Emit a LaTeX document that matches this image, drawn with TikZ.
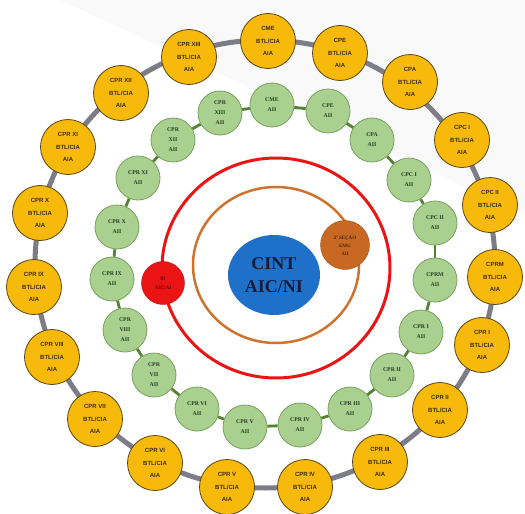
\documentclass[tikz,border=0pt]{standalone}
\usepackage{fontspec}
\setmainfont{Liberation Serif}
\newfontfamily\osans{Liberation Sans}
\usetikzlibrary{shapes.geometric}
\definecolor{ogold}{RGB}{247,186,10}
\definecolor{oedge}{RGB}{90,70,20}
\definecolor{gfill}{RGB}{169,208,142}
\definecolor{gedge}{RGB}{120,160,95}
\definecolor{gline}{RGB}{84,130,53}
\definecolor{gtext}{RGB}{40,60,35}
\definecolor{otext}{RGB}{60,45,20}
\definecolor{ringgray}{RGB}{125,125,135}
\definecolor{cblue}{RGB}{30,112,200}
\definecolor{navy}{RGB}{20,28,60}
\definecolor{brown}{RGB}{200,105,35}
\definecolor{ring2}{RGB}{205,115,45}
\definecolor{rred}{RGB}{235,20,20}
\pgfdeclarelayer{back}
\pgfsetlayers{back,main}
\begin{document}
\begin{tikzpicture}[x=1pt,y=-1pt,
  outer/.style={circle,draw=oedge,line width=0.8pt,fill=ogold,minimum size=55pt,inner sep=0pt,align=center,
     font=\osans\bfseries\fontsize{6}{12.5}\selectfont,text=otext},
  inner/.style={circle,draw=gedge,line width=0.8pt,fill=gfill,minimum size=44pt,inner sep=0pt,align=center,
     font=\bfseries\fontsize{5.8}{10}\selectfont,text=gtext},
  gconn/.style={gline,line width=2.8pt},
]
\begin{pgfonlayer}{back}
\fill[white] (0,0) rectangle (525,514);
\fill[gray!5] (60,0) -- (525,0) -- (525,215) -- cycle;
% rings
\draw[ringgray,line width=5pt] (265,264) ellipse [x radius=230,y radius=224];
\draw[rred,line width=3pt] (276,268) ellipse [x radius=114,y radius=110];
\draw[ring2,line width=2.5pt] (276,265) ellipse [x radius=83,y radius=78];
\end{pgfonlayer}
\useasboundingbox (0,0) rectangle (525,514);
% green ring nodes
\node[inner] (g1) at (272,105) {CME\\AII};
\node[inner] (g2) at (328,111) {CPE\\AII};
\node[inner] (g3) at (372,140) {CPA\\AII};
\node[inner] (g4) at (409,180) {CPC I\\AII};
\node[inner] (g5) at (435,223) {CPC II\\AII};
\node[inner] (g6) at (435,280) {CPRM\\AII};
\node[inner] (g7) at (421,332) {CPR I\\AII};
\node[inner] (g8) at (392,375) {CPR II\\AII};
\node[inner] (g9) at (350,409) {CPR III\\AII};
\node[inner] (g10) at (300,425) {CPR IV\\AII};
\node[inner] (g11) at (245,427) {CPR V\\AII};
\node[inner] (g12) at (197,409) {CPR VI\\AII};
\node[inner] (g13) at (154,375) {CPR\\VII\\AII};
\node[inner] (g14) at (125,330) {CPR\\VIII\\AII};
\node[inner] (g15) at (112,279) {CPR IX\\AII};
\node[inner] (g16) at (117,227) {CPR X\\AII};
\node[inner] (g17) at (138,178) {CPR XI\\AII};
\node[inner] (g18) at (173,140) {CPR\\XII\\AII};
\node[inner] (g19) at (220,113) {CPR\\XIII\\AII};
\begin{pgfonlayer}{back}
\foreach \a/\b in {g1/g2,g2/g3,g3/g4,g4/g5,g5/g6,g6/g7,g7/g8,g8/g9,g9/g10,g10/g11,g11/g12,g12/g13,g13/g14,g14/g15,g15/g16,g16/g17,g17/g18,g18/g19,g19/g1}
  \draw[gconn] (\a) -- (\b);
\end{pgfonlayer}
% outer nodes
\node[outer] (o1) at (268,41) {CME\\BTL/CIA\\AIA};
\node[outer] (o2) at (340,53) {CPE\\BTL/CIA\\AIA};
\node[outer] (o3) at (410,82) {CPA\\BTL/CIA\\AIA};
\node[outer] (o4) at (462,140) {CPC I\\BTL/CIA\\AIA};
\node[outer] (o5) at (490,205) {CPC II\\BTL/CIA\\AIA};
\node[outer] (o6) at (495,277) {CPRM\\BTL/CIA\\AIA};
\node[outer] (o7) at (482,345) {CPR I\\BTL/CIA\\AIA};
\node[outer] (o8) at (440,410) {CPR II\\BTL/CIA\\AIA};
\node[outer] (o9) at (380,462) {CPR III\\BTL/CIA\\AIA};
\node[outer] (o10) at (305,487) {CPR IV\\BTL/CIA\\AIA};
\node[outer] (o11) at (227,487) {CPR V\\BTL/CIA\\AIA};
\node[outer] (o12) at (155,463) {CPR VI\\BTL/CIA\\AIA};
\node[outer] (o13) at (95,419) {CPR VII\\BTL/CIA\\AIA};
\node[outer] (o14) at (52,357) {CPR VIII\\BTL/CIA\\AIA};
\node[outer] (o15) at (34,287) {CPR IX\\BTL/CIA\\AIA};
\node[outer] (o16) at (40,213) {CPR X\\BTL/CIA\\AIA};
\node[outer] (o17) at (68,147) {CPR XI\\BTL/CIA\\AIA};
\node[outer] (o18) at (121,93) {CPR XII\\BTL/CIA\\AIA};
\node[outer] (o19) at (189,57) {CPR XIII\\BTL/CIA\\AIA};
% centre
\node[ellipse,fill=cblue,minimum width=92pt,minimum height=80pt,inner sep=0pt,align=center,
  font=\bfseries\fontsize{18}{23}\selectfont,text=navy] (c) at (274,275) {CINT\\AIC/NI};
\node[circle,fill=rred,draw=rred!80!black,minimum size=43pt,inner sep=0pt,align=center,
  font=\bfseries\fontsize{5.2}{9}\selectfont,text=red!40!black] (bi) at (163,283) {BI\\AIC/AI};
\node[circle,fill=brown,draw=brown!80!black,minimum size=49pt,inner sep=0pt,align=center,
  font=\bfseries\fontsize{5}{8}\selectfont,text=brown!40!black] (sec) at (345,245) {2ª SEÇÃO\\EMG\\AII};
\end{tikzpicture}
\end{document}
